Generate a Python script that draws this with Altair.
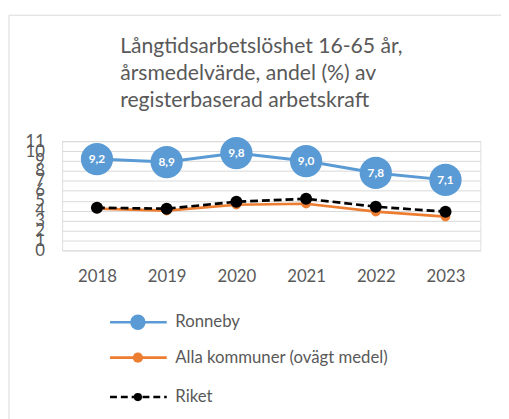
import altair as alt
import pandas as pd

years = ["2018", "2019", "2020", "2021", "2022", "2023"]
ronneby = [9.2, 8.9, 9.8, 9.0, 7.8, 7.1]
alla = [4.2, 4.0, 4.6, 4.7, 3.9, 3.4]
riket = [4.3, 4.2, 4.9, 5.2, 4.4, 3.9]
series = ["Ronneby", "Alla kommuner (ovägt medel)", "Riket"]
title_lines = ["Långtidsarbetslöshet 16-65 år,", "årsmedelvärde, andel (%) av", "registerbaserad arbetskraft"]
y_ticks = list(range(0, 12))

df = pd.DataFrame({
    "year": years * 3,
    "series": [series[0]] * 6 + [series[1]] * 6 + [series[2]] * 6,
    "value": ronneby + alla + riket,
})

FONT = "Lato"
GREY = "#595959"
BLUE = "#5b9bd5"
ORANGE = "#ed7d31"
BLACK = "#000000"
GRID = "#d9d9d9"

x = alt.X("year:O", scale=alt.Scale(type="point", padding=0.5),
          axis=alt.Axis(title=None, labelAngle=0, domain=False, ticks=False,
                        labelPadding=19, labelFontSize=17, labelColor=GREY,
                        labelFont=FONT, grid=False))
y = alt.Y("value:Q", scale=alt.Scale(domain=[0, 11], nice=False, zero=True),
          axis=alt.Axis(title=None, values=y_ticks, domain=False, ticks=False,
                        labelPadding=18, labelFontSize=17, labelColor=GREY,
                        labelFont=FONT, labelOverlap=False, grid=True,
                        gridColor=GRID, gridWidth=1, labelFlush=False,
                        labelBound=False))

base = alt.Chart(df).encode(x=x, y=y)


def sel(name):
    return base.transform_filter(alt.datum.series == name)


alla_line = sel(series[1]).mark_line(color=ORANGE, strokeWidth=2.7)
alla_pts = sel(series[1]).mark_point(filled=True, color=ORANGE, size=95, opacity=1)
riket_line = sel(series[2]).mark_line(color=BLACK, strokeWidth=2.7, strokeDash=[8, 4])
riket_pts = sel(series[2]).mark_point(filled=True, color=BLACK, size=150, opacity=1)
ron_line = sel(series[0]).mark_line(color=BLUE, strokeWidth=3)
ron_pts = sel(series[0]).mark_point(filled=True, color=BLUE, size=1075, opacity=1)
ron_lbl = sel(series[0]).transform_calculate(
    lbl="replace(format(datum.value, '.1f'), '.', ',')"
).mark_text(color="white", fontSize=12, font=FONT, fontWeight="bold").encode(text="lbl:N")

one = pd.DataFrame({"a": [0]})
# chart frame (decorative border)
border_left = alt.Chart(one).mark_rule(color=GRID, strokeWidth=1).encode(
    x=alt.value(-54), y=alt.value(-128), y2=alt.value(290))
border_top = alt.Chart(one).mark_rule(color=GRID, strokeWidth=1).encode(
    x=alt.value(-54), x2=alt.value(470), y=alt.value(-128))

# title as a multi-line text block, lines left-aligned
title = alt.Chart(one).mark_text(align="left", baseline="top", fontSize=21.5, font=FONT,
                                 color=GREY, lineHeight=27.5).encode(
    x=alt.value(59), y=alt.value(-107), text=alt.value(title_lines))

# legend
leg_colors = [BLUE, ORANGE, BLACK]
leg_sizes = [245, 107, 70]
leg_dash = [[1, 0], [1, 0], [7, 4]]
leg_y = [184, 220, 260]
legend_layers = []
for name, c, s, d, py in zip(series, leg_colors, leg_sizes, leg_dash, leg_y):
    ld = pd.DataFrame({"s": [name]})
    legend_layers.append(alt.Chart(ld).mark_rule(color=c, strokeWidth=2.7, strokeDash=d).encode(
        x=alt.value(48.7), x2=alt.value(106.3), y=alt.value(py)))
    legend_layers.append(alt.Chart(ld).mark_point(filled=True, color=c, size=s, opacity=1).encode(
        x=alt.value(77), y=alt.value(py)))
    legend_layers.append(alt.Chart(ld).mark_text(align="left", baseline="middle", fontSize=17,
                                                 font=FONT, color=GREY).encode(
        x=alt.value(115), y=alt.value(py), text="s:N"))

chart = alt.layer(
    border_left, border_top, title,
    alla_line, alla_pts, riket_line, riket_pts, ron_line, ron_pts, ron_lbl,
    *legend_layers
).properties(
    width=425, height=111,
    autosize=alt.AutoSizeParams(type="none"),
    padding={"left": 55, "top": 132, "right": 21, "bottom": 168},
).configure_view(stroke=None).configure(background="white")

chart.save("out.html", embed_options={"renderer": "svg", "actions": False})
